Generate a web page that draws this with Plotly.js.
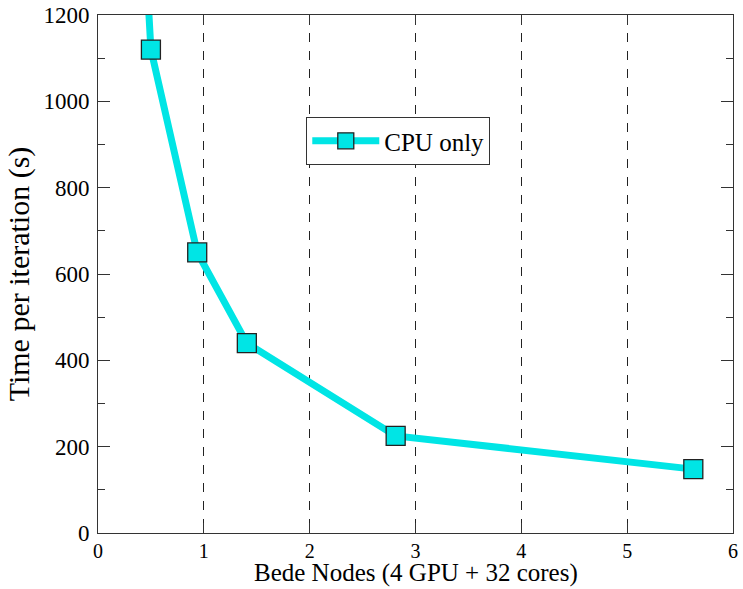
<!DOCTYPE html>
<html><head><meta charset="utf-8">
<script src="https://cdn.plot.ly/plotly-3.0.1.min.js"></script>
<style>html,body{margin:0;padding:0;background:#fff}</style>
</head><body><div id="chart" style="width:743px;height:589px"></div>
<script>
var seriesName = "CPU only";
var xTitle = "Bede Nodes (4 GPU + 32 cores)";
var yTitle = "Time per iteration (s)";
var nodes = [0.25, 0.5, 0.9375, 1.40625, 2.8125, 5.625];
var timePerIter = [2200, 1120, 650, 440, 225, 148];
var xTickVals = [0, 1, 2, 3, 4, 5, 6];
var yTickVals = [0, 200, 400, 600, 800, 1000, 1200];

var font = "Liberation Serif";
var trace = {
  x: nodes, y: timePerIter, name: seriesName, type: "scatter", mode: "lines+markers",
  line: {color: "#00E5E5", width: 7},
  marker: {symbol: "square", size: 19, color: "#00E5E5", line: {color: "#222", width: 1.3}},
  cliponaxis: true
};
var layout = {
  width: 743, height: 589,
  margin: {l: 98, r: 10, t: 15, b: 56},
  paper_bgcolor: "#fff", plot_bgcolor: "#fff",
  font: {family: font, size: 22, color: "#000"},
  showlegend: true,
  legend: {x: 0.328, y: 0.803, xanchor: "left", yanchor: "top", bgcolor: "#fff",
    bordercolor: "#333", borderwidth: 1, font: {family: font, size: 25, color: "#000"}, itemwidth: 67},
  xaxis: {range: [0, 6], tickvals: xTickVals, ticks: "inside", ticklen: 10, tickcolor: "#333",
    showline: true, linecolor: "#333", linewidth: 1, mirror: "ticks", zeroline: false,
    showgrid: true, gridcolor: "#222", griddash: "dash", gridwidth: 1,
    tickfont: {family: font, size: 20, color: "#000"}},
  yaxis: {range: [0, 1200], tickvals: yTickVals, ticks: "inside", ticklen: 12, tickcolor: "#333",
    showline: true, linecolor: "#333", linewidth: 1, mirror: "ticks", zeroline: false,
    showgrid: false, ticklabelstandoff: 3,
    minor: {dtick: 100, ticklen: 7, tickcolor: "#333", ticks: "inside", showgrid: false},
    tickfont: {family: font, size: 23, color: "#000"},
    title: {text: yTitle, font: {family: font, size: 30, color: "#000"}, standoff: 4}},
  annotations: [{text: xTitle, xref: "paper", yref: "paper", x: 0.5, y: 0,
    xanchor: "center", yanchor: "bottom", yshift: -55, showarrow: false, borderpad: 0,
    font: {family: font, size: 25, color: "#000"}}]
};
Plotly.newPlot("chart", [trace], layout, {displayModeBar: false, staticPlot: true});
</script></body></html>
